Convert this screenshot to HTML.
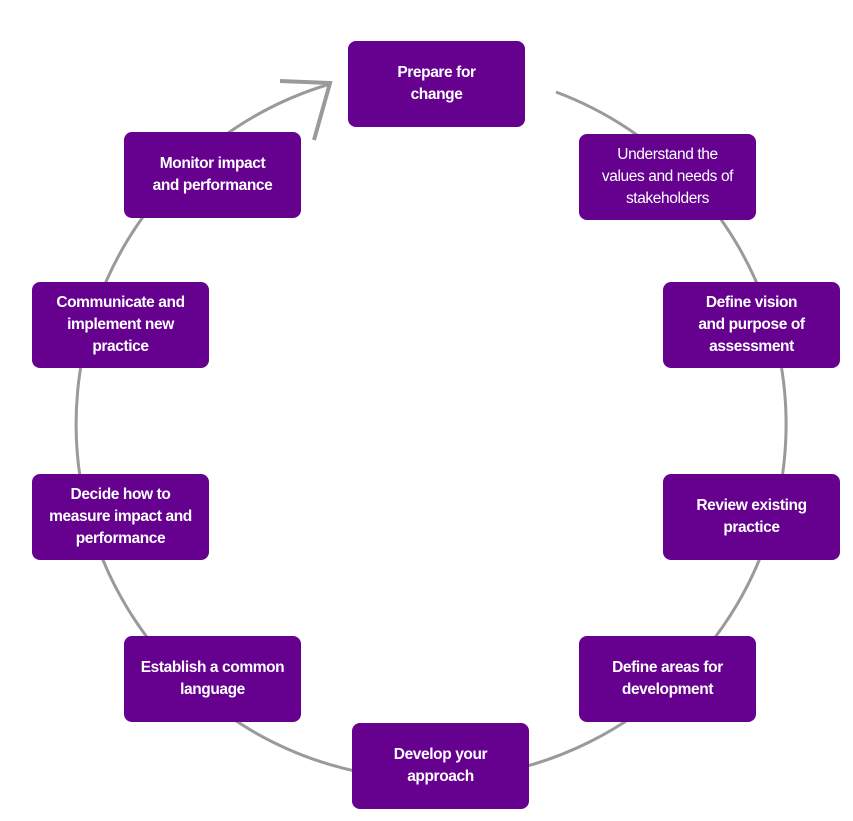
<!DOCTYPE html>
<html><head><style>
body{margin:0;background:#fff;width:853px;height:821px;position:relative;overflow:hidden;font-family:"Liberation Sans",sans-serif}
.b{position:absolute;width:177px;height:86px;background:#65008f;border-radius:8px;color:#fff;font-weight:bold;font-size:15.5px;line-height:22px;display:flex;align-items:center;justify-content:center;text-align:center;letter-spacing:-0.4px}
.n{font-weight:normal}
svg{position:absolute;left:0;top:0}
</style></head><body>
<svg width="853" height="821">
<path d="M556 92 A355 355 0 1 1 330 84" fill="none" stroke="#9a9a9a" stroke-width="3"/>
<path d="M280 81 L330 83 L314 140" fill="none" stroke="#9a9a9a" stroke-width="4" stroke-linejoin="miter"/>
</svg>
<div class="b" style="left:348px;top:41px">Prepare for<br>change</div>
<div class="b n" style="left:579px;top:134px">Understand the<br>values and needs of<br>stakeholders</div>
<div class="b" style="left:663px;top:282px">Define vision<br>and purpose of<br>assessment</div>
<div class="b" style="left:663px;top:474px">Review existing<br>practice</div>
<div class="b" style="left:579px;top:636px">Define areas for<br>development</div>
<div class="b" style="left:352px;top:723px">Develop your<br>approach</div>
<div class="b" style="left:124px;top:636px">Establish a common<br>language</div>
<div class="b" style="left:32px;top:474px">Decide how to<br>measure impact and<br>performance</div>
<div class="b" style="left:32px;top:282px">Communicate and<br>implement new<br>practice</div>
<div class="b" style="left:124px;top:132px">Monitor impact<br>and performance</div>
</body></html>
